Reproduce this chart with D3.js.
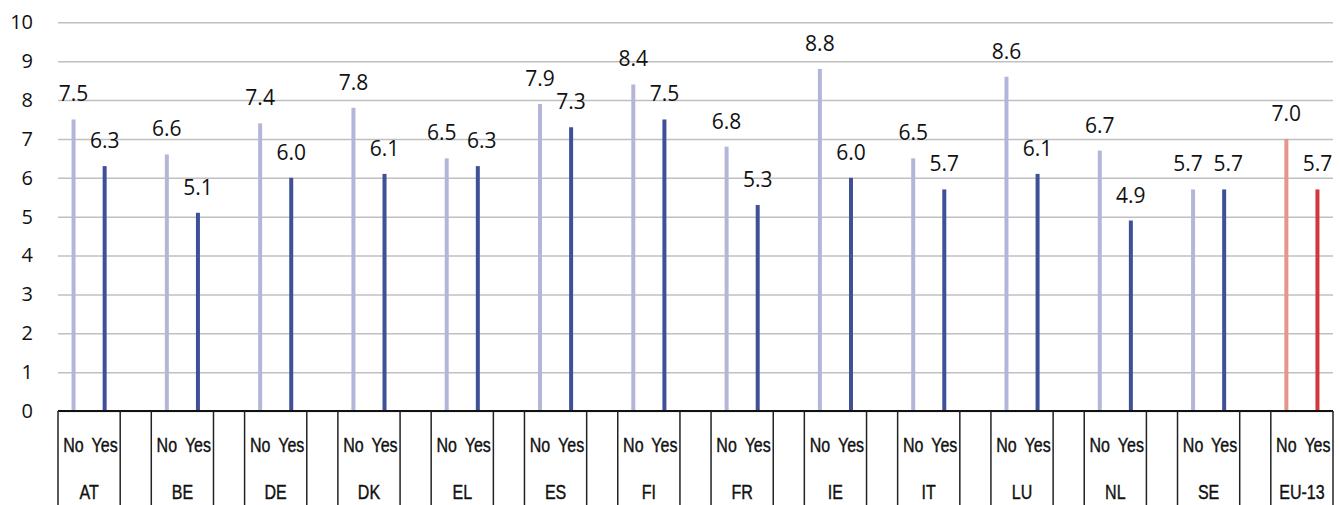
<!DOCTYPE html>
<html>
<head>
<meta charset="utf-8">
<script src="https://cdn.jsdelivr.net/npm/d3@7"></script>
<style>
  body { margin: 0; background: #fff; }
  svg { display: block; }
  .axis text { font-family: "Open Sans", sans-serif; font-size: 20px; fill: #111; }
</style>
</head>
<body>
<script>
var countries = ['AT', 'BE', 'DE', 'DK', 'EL', 'ES', 'FI', 'FR', 'IE', 'IT', 'LU', 'NL', 'SE', 'EU-13']
var subLabels = ['No', 'Yes']
var noValues = [7.5, 6.6, 7.4, 7.8, 6.5, 7.9, 8.4, 6.8, 8.8, 6.5, 8.6, 6.7, 5.7, 7.0]
var yesValues = [6.3, 5.1, 6.0, 6.1, 6.3, 7.3, 7.5, 5.3, 6.0, 5.7, 6.1, 4.9, 5.7, 5.7]
var yTicks = [0, 1, 2, 3, 4, 5, 6, 7, 8, 9, 10]

var width = 1340, height = 505
var plotLeft = 58, plotRight = 1333, plotTop = 22.3, base = 411

// colours: normal countries, then the EU average
var colNo = '#b4b6d9', colYes = '#3e5196'
var colNoEU = '#e5958b', colYesEU = '#d2373d'

var svg = d3.select('body').append('svg').attr('width', width).attr('height', height)

// each country takes 3 slots (No, Yes, blank); the last one has no blank
var nSlots = countries.length * 3 - 1
var x = d3.scaleLinear().domain([0, nSlots]).range([plotLeft, plotRight])
var y = d3.scaleLinear().domain([0, 10]).range([base, plotTop])

var yAxis = d3.axisLeft(y)
  .tickValues(yTicks)
  .tickSize(-(plotRight - plotLeft))
  .tickPadding(25)

var gy = svg.append('g').attr('class', 'axis y')
  .attr('transform', `translate(${plotLeft},0)`)
  .call(yAxis)
gy.select('.domain').remove()
gy.selectAll('.tick line').attr('stroke', '#c0c0c0').attr('stroke-width', 1.5)

var bars = []
countries.forEach(function(c, i) {
  var eu = c === 'EU-13'
  // labels of a pair at about the same height get pushed apart a bit
  var close = Math.abs(noValues[i] - yesValues[i]) < 0.35
  bars.push({c: c, i: i, j: 0, v: noValues[i], color: eu ? colNoEU : colNo, dx: close ? -5 : 0})
  bars.push({c: c, i: i, j: 1, v: yesValues[i], color: eu ? colYesEU : colYes, dx: close ? 4 : 0})
})
var cx = d => x(d.i * 3 + d.j + 0.5)

svg.append('g').selectAll('rect').data(bars).join('rect')
  .attr('x', d => cx(d) - 2)
  .attr('width', 4)
  .attr('y', d => y(d.v))
  .attr('height', d => base - y(d.v))
  .attr('fill', d => d.color)

svg.append('g').selectAll('text').data(bars).join('text')
  .attr('x', d => cx(d) + d.dx)
  .attr('y', d => y(d.v) - 18)
  .attr('text-anchor', 'middle')
  .attr('font-family', '"Open Sans", sans-serif')
  .attr('font-size', 21)
  .attr('fill', '#111')
  .text(d => d.v.toFixed(1))

// category axis: baseline, separators, two label rows
svg.append('line')
  .attr('x1', plotLeft).attr('x2', plotRight).attr('y1', base).attr('y2', base)
  .attr('stroke', '#111').attr('stroke-width', 2)

var seps = []
countries.forEach(function(c, i) { seps.push(i * 3, i * 3 + 2) })
svg.append('g').selectAll('line').data(seps).join('line')
  .attr('x1', d => x(d)).attr('x2', d => x(d))
  .attr('y1', base).attr('y2', height)
  .attr('stroke', '#222').attr('stroke-width', 1.5)

// narrow font is not available, so squeeze Liberation Sans horizontally
svg.append('g').selectAll('text').data(bars).join('text')
  .attr('transform', d => `translate(${cx(d)},452) scale(0.8,1)`)
  .attr('text-anchor', 'middle')
  .attr('font-family', '"Liberation Sans", Arial, sans-serif')
  .attr('font-size', 20)
  .attr('fill', '#111')
  .attr('stroke', '#111').attr('stroke-width', 0.4)
  .text(d => subLabels[d.j])

svg.append('g').selectAll('text').data(countries).join('text')
  .attr('transform', (d, i) => `translate(${x(i * 3 + 1)},499) scale(0.8,1)`)
  .attr('text-anchor', 'middle')
  .attr('font-family', '"Liberation Sans", Arial, sans-serif')
  .attr('font-size', 20)
  .attr('fill', '#111')
  .attr('stroke', '#111').attr('stroke-width', 0.4)
  .text(d => d)
</script>
</body>
</html>
